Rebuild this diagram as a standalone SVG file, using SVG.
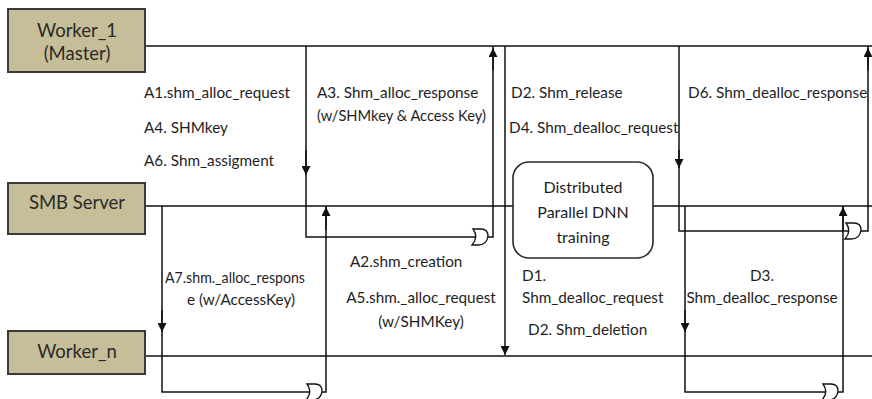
<svg xmlns="http://www.w3.org/2000/svg" width="872" height="399" viewBox="0 0 872 399">
<defs>
<marker id="ah" viewBox="0 0 10 10" refX="10" refY="5" markerWidth="9" markerHeight="9" markerUnits="userSpaceOnUse" orient="auto">
<path d="M0,0 L10,5 L0,10 Z" fill="#111"/>
</marker>
<path id="dsym" d="M-8,-8 L0,-8 Q7,-8 7,-1 Q6,8 -3,8 L-9,8 Q-2,0 -8,-8 Z"/>
</defs>
<style>
.box{fill:#C6BE98;stroke:#3a3a3a;stroke-width:2}
.bt{font-family:Lato,"Liberation Sans",sans-serif;font-size:18.5px;fill:#2a2a2a;text-anchor:middle}
.lb{font-family:Lato,"Liberation Sans",sans-serif;font-size:15.3px;fill:#1e1e1e}
.dn{font-size:16px}
.mid{text-anchor:middle}
.ln{fill:none;stroke:#111;stroke-width:1.5}
.ds{fill:#fff;stroke:#111;stroke-width:1.3}
.rb{fill:#fff;stroke:#2a2a2a;stroke-width:1.6}
</style>
<rect width="872" height="399" fill="#fff"/>
<g id="connectors">
<path class="ln" d="M145,46 H872"/>
<path class="ln" d="M145,206 H513 M653,206 H872"/>
<path class="ln" d="M145,356 H872"/>
<path class="ln" d="M306,46 V237 H493 V46"/>
<path class="ln" d="M306,150 V175" marker-end="url(#ah)"/>
<path class="ln" d="M493,70 V48" marker-end="url(#ah)"/>
<use href="#dsym" class="ds" x="481" y="237"/>
<path class="ln" d="M162,206 V392 H326 V206"/>
<path class="ln" d="M162,310 V332" marker-end="url(#ah)"/>
<path class="ln" d="M326,230 V207" marker-end="url(#ah)"/>
<use href="#dsym" class="ds" x="315" y="392"/>
<path class="ln" d="M505,46 V355" marker-end="url(#ah)"/>
<path class="ln" d="M679,46 V231 H868 V46"/>
<path class="ln" d="M679,150 V168" marker-end="url(#ah)"/>
<path class="ln" d="M868,70 V48" marker-end="url(#ah)"/>
<use href="#dsym" class="ds" x="854" y="231"/>
<path class="ln" d="M685,206 V392 H843 V206"/>
<path class="ln" d="M685,310 V332" marker-end="url(#ah)"/>
<path class="ln" d="M843,230 V207" marker-end="url(#ah)"/>
<use href="#dsym" class="ds" x="831" y="392"/>
</g>
<g id="worker1">
<rect class="box" x="8" y="9" width="137" height="63"/>
<text class="bt" x="77" y="37">Worker_1</text>
<text class="bt" x="77" y="60">(Master)</text>
</g>
<g id="smb">
<rect class="box" x="8" y="183" width="137" height="51"/>
<text class="bt" x="77" y="209">SMB Server</text>
</g>
<g id="workern">
<rect class="box" x="8" y="331" width="137" height="43"/>
<text class="bt" x="77" y="358">Worker_n</text>
</g>
<g id="dnn">
<rect class="rb" x="513" y="162" width="140" height="96" rx="16"/>
<text class="lb mid dn" x="583" y="193">Distributed</text>
<text class="lb mid dn" x="583" y="218">Parallel DNN</text>
<text class="lb mid dn" x="583" y="243">training</text>
</g>
<g id="labels">
<text class="lb" x="144" y="98">A1.shm_alloc_request</text>
<text class="lb" x="144" y="133">A4. SHMkey</text>
<text class="lb" x="144" y="166">A6. Shm_assigment</text>
<text class="lb" x="317" y="98">A3. Shm_alloc_response</text>
<text class="lb" x="317" y="121" textLength="169" lengthAdjust="spacingAndGlyphs">(w/SHMkey &amp; Access Key)</text>
<text class="lb" x="511" y="98">D2. Shm_release</text>
<text class="lb" x="509" y="133">D4. Shm_dealloc_request</text>
<text class="lb" x="688" y="98">D6. Shm_dealloc_response</text>
<text class="lb mid" x="235" y="283" textLength="140" lengthAdjust="spacingAndGlyphs">A7.shm._alloc_respons</text>
<text class="lb mid" x="241" y="305">e (w/AccessKey)</text>
<text class="lb" x="350" y="267">A2.shm_creation</text>
<text class="lb mid" x="421" y="303">A5.shm._alloc_request</text>
<text class="lb mid" x="421" y="327">(w/SHMKey)</text>
<text class="lb" x="522" y="281">D1.</text>
<text class="lb" x="522" y="303">Shm_dealloc_request</text>
<text class="lb" x="528" y="335">D2. Shm_deletion</text>
<text class="lb mid" x="762" y="281">D3.</text>
<text class="lb mid" x="762" y="303">Shm_dealloc_response</text>
</g>
</svg>
